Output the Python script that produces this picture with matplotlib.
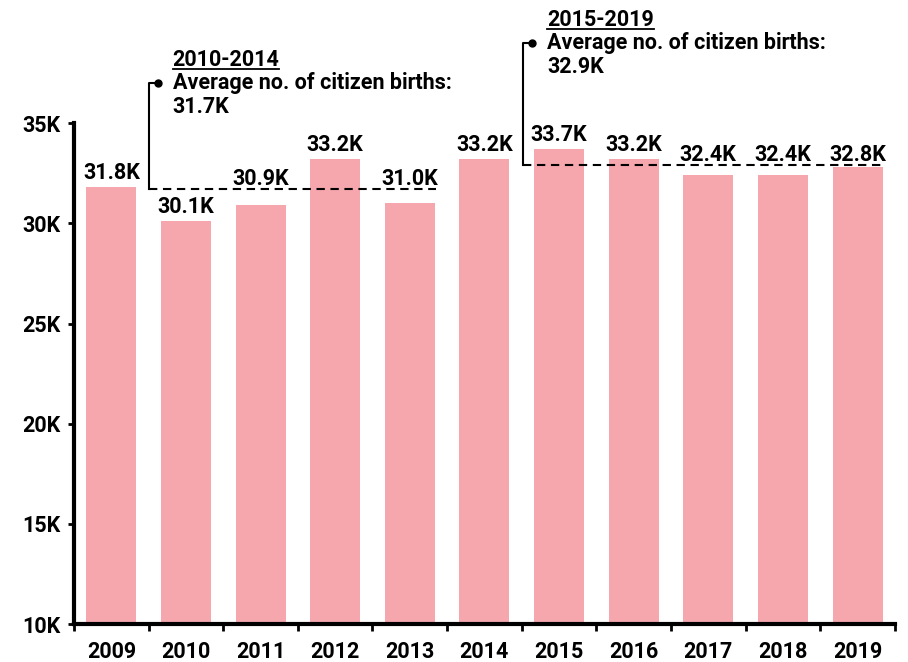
import matplotlib.pyplot as plt
from matplotlib import font_manager as fm
import numpy as np

# Roboto Bold straight from its file
bold_file = [f.fname for f in fm.fontManager.ttflist if f.fname.endswith('Roboto-Bold.ttf')]
if bold_file:
    fp = fm.FontProperties(fname=bold_file[0], size=15.5)
else:
    fp = fm.FontProperties(family='DejaVu Sans', weight='bold', size=15)

years = ['2009', '2010', '2011', '2012', '2013', '2014', '2015', '2016', '2017', '2018', '2019']
births = [31800, 30100, 30900, 33200, 31000, 33200, 33700, 33200, 32400, 32400, 32800]
labels = ['31.8K', '30.1K', '30.9K', '33.2K', '31.0K', '33.2K', '33.7K', '33.2K', '32.4K', '32.4K', '32.8K']
periods = ['2010-2014', '2015-2019']
period_idx = [(1, 5), (6, 10)]
period_avg = [31700, 32900]
period_avg_lbl = ['31.7K', '32.9K']

fig = plt.figure(figsize=(9.08, 6.62), dpi=100)
ax = fig.add_axes([0.0815, 0.0574, 0.904, 0.7563])

x = np.arange(len(years))
bw = 0.67
ax.bar(x, births, width=bw, color='#f5a7ad', zorder=2)

ax.set_ylim(10000, 35000)
ax.set_xlim(-0.5, len(years) - 0.5)
yt = np.arange(10000, 35001, 5000)
ax.set_yticks(yt)
ax.set_yticklabels([f'{int(t/1000)}K' for t in yt])
ax.set_xticks(x)
ax.set_xticklabels(years)
ax.set_xticks(np.arange(-0.5, len(years)), minor=True)
ax.tick_params(axis='x', which='major', length=0, pad=12.5)
ax.tick_params(axis='x', which='minor', length=5, width=2)
ax.tick_params(axis='y', length=4.5, width=2, pad=5.5)
for t in ax.get_xticklabels() + ax.get_yticklabels():
    t.set_fontproperties(fp)

for s in ['top', 'right']:
    ax.spines[s].set_visible(False)
ax.spines['left'].set_linewidth(3)
ax.spines['bottom'].set_linewidth(3)

# value labels; the ones that would sit on the average line go just above it
avg_for = {}
for (a, b), avg in zip(period_idx, period_avg):
    for i in range(a, b + 1):
        avg_for[i] = avg
for xi, v, l in zip(x, births, labels):
    avg = avg_for.get(xi, 0)
    base, off = v, 6
    if v < avg and v + 1200 > avg:
        base, off = avg, 3.5
    ax.annotate(l, (xi, base), xytext=(0, off), textcoords='offset points',
                ha='center', va='baseline', fontproperties=fp)

# average brackets
starts = [0.5, 5.52]
ends = [4.35, 10.37]
tops = [37010, 39010]
fig.canvas.draw()
for p, avg, al, x0, x1, top in zip(periods, period_avg, period_avg_lbl, starts, ends, tops):
    ax.plot([x0, x1], [avg, avg], ls=(0, (4, 2.7)), color='black', lw=1.5, clip_on=False, zorder=3)
    ax.plot([x0, x0, x0 + 0.12], [avg, top, top], color='black', lw=1.5, clip_on=False)
    ax.plot([x0 + 0.12], [top], 'o', color='black', ms=5, clip_on=False)
    tx = x0 + 0.32
    t = ax.text(tx, top + 850, p, va='baseline', ha='left', fontproperties=fp)
    ax.text(tx, top - 320, 'Average no. of citizen births:', va='baseline', ha='left', fontproperties=fp)
    ax.text(tx, top - 1500, al, va='baseline', ha='left', fontproperties=fp)
    bb = t.get_window_extent(fig.canvas.get_renderer()).transformed(ax.transData.inverted())
    ax.plot([bb.x0, bb.x1], [top + 690, top + 690], color='black', lw=1.3, clip_on=False)

fig.savefig('out.png', dpi=100)
